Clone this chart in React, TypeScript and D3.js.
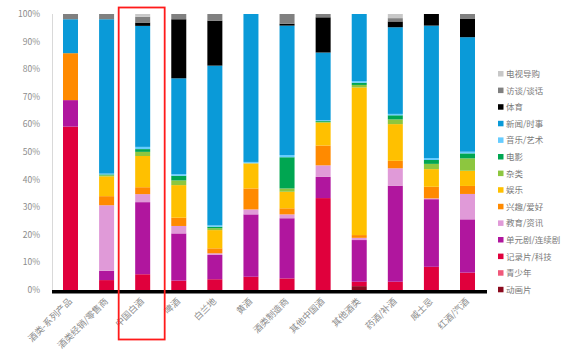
import React from "react";
import * as d3 from "d3";

const categories = ["酒类-系列产品", "酒类经销/零售商", "中国白酒", "啤酒", "白兰地", "黄酒", "酒类制造商", "其他中国酒", "其他酒类", "药酒/补酒", "威士忌", "红酒/汽酒"];

// stacking order: bottom -> top
const seriesNames = ["动画片", "青少年", "记录片/科技", "单元剧/连续剧", "教育/资讯", "兴趣/爱好", "娱乐", "杂类", "电影", "音乐/艺术", "新闻/时事", "体育", "访谈/谈话", "电视导购"];
const seriesColors = ["#8b0a1e", "#f0587a", "#e0003c", "#b0169e", "#e09ad8", "#ff8a00", "#ffc000", "#8dc63f", "#00a651", "#66ccff", "#0a9ad8", "#000000", "#808080", "#c8c8c8"];

const animation = [0, 0, 0, 0, 0, 0, 0, 0, 1.4, 0, 0, 0];
const youth = [0, 0, 0, 0, 0, 0, 0, 0, 0, 0, 0, 0];
const documentary = [59.2, 3.6, 5.7, 3.4, 3.9, 4.8, 4.2, 33.4, 1.6, 3.0, 8.4, 6.3];
const drama = [9.6, 3.4, 26.1, 17.1, 8.8, 22.6, 21.8, 7.7, 15.1, 34.8, 24.5, 19.3];
const education = [0, 23.8, 2.9, 2.7, 0.6, 1.8, 1.4, 4.2, 0.8, 6.3, 0.3, 9.2];
const hobby = [17, 3.3, 2.5, 3, 1.8, 7.6, 2.2, 7.2, 1, 2.7, 4.2, 2.9];
const entertainment = [0, 7.2, 11.3, 11.8, 6.6, 9.1, 6, 8.3, 53.5, 13.3, 6.4, 5.5];
const misc = [0, 0.4, 1.5, 1.7, 0.7, 0, 1.2, 0.3, 0.9, 1.7, 1.9, 4.5];
const movie = [0, 0.3, 1, 1.7, 0.5, 0, 11.3, 0.3, 0.8, 1.5, 1.4, 1.8];
const music = [0, 0.3, 0.8, 0.6, 0.5, 0.5, 0.8, 0.3, 0.6, 0.5, 0.7, 0.6];
const news = [12.3, 56.1, 43.8, 34.7, 57.9, 53.6, 46.9, 24.6, 24.3, 31.4, 48, 41.5];
const sports = [0, 0, 1.2, 21.4, 16.3, 0, 0.7, 12.8, 0, 2.1, 4.2, 6.6];
const talk = [1.9, 1.9, 2.1, 1.9, 2.4, 0, 3.5, 1.2, 0, 1.2, 0, 1.8];
const shopping = [0, 0, 1, 0, 0, 0, 0, 0, 0, 1.5, 0, 0];

const seriesValues = [animation, youth, documentary, drama, education, hobby, entertainment, misc, movie, music, news, sports, talk, shopping];

const yTicks = [0, 0.1, 0.2, 0.3, 0.4, 0.5, 0.6, 0.7, 0.8, 0.9, 1];
const highlighted = "中国白酒";

export default function App() {
  const W = 578, H = 355;
  const rows = categories.map((c, i) => {
    const r: any = { cat: c };
    seriesNames.forEach((s, k) => (r[s] = seriesValues[k][i]));
    return r;
  });
  const stack = d3.stack().keys(seriesNames).offset(d3.stackOffsetExpand);
  const layers = stack(rows);

  const x = d3.scalePoint().domain(categories).range([70.5, 467.5]);
  const y = d3.scaleLinear().domain([0, 1]).range([290, 14]);
  const bw = 15;
  const font = "'Noto Sans CJK SC', 'Noto Sans', sans-serif";

  const hx = x(highlighted)!;

  // legend order (top -> bottom) is reverse of stacking
  const legend = seriesNames.map((n, i) => ({ n, c: seriesColors[i] })).reverse();

  return (
    <svg width={W} height={H} style={{ position: "absolute", left: 0, top: 0, background: "#fff" }} fontFamily={font}>
      {/* y axis line */}
      <line x1={52.5} x2={52.5} y1={y(1)} y2={y(0)} stroke="#d9d9d9" strokeWidth={1} />
      {yTicks.map((t) => (
        <text key={t} x={40} y={y(t)} dy="0.35em" textAnchor="end" fontSize={8.5} fill="#8c8c8c">
          {d3.format(".0%")(t)}
        </text>
      ))}
      {layers.map((layer, k) => (
        <g key={seriesNames[k]} fill={seriesColors[k]}>
          {layer.map((d, i) => {
            const h = y(d[0]) - y(d[1]);
            if (h <= 0) return null;
            return <rect key={i} x={x(categories[i])! - bw / 2} y={y(d[1])} width={bw} height={h} />;
          })}
        </g>
      ))}
      {/* thick baseline */}
      <rect x={52} y={290} width={435} height={3.5} fill="#000" />
      {categories.map((c) => (
        <text
          key={c}
          transform={`translate(${x(c)! + 2},${302}) rotate(-45)`}
          textAnchor="end"
          fontSize={9}
          fill="#8c8c8c"
        >
          {c}
        </text>
      ))}
      {/* highlight box */}
      <rect x={hx - 24} y={7.5} width={46} height={332} fill="none" stroke="#ff1a1a" strokeWidth={1.8} />
      {legend.map((d, i) => (
        <g key={d.n} transform={`translate(498,${74 + i * 16.6})`}>
          <rect x={0} y={-3} width={5.5} height={5.5} fill={d.c} />
          <text x={8} y={0} dy="0.35em" fontSize={8.5} fill="#7a7a7a">
            {d.n}
          </text>
        </g>
      ))}
    </svg>
  );
}
